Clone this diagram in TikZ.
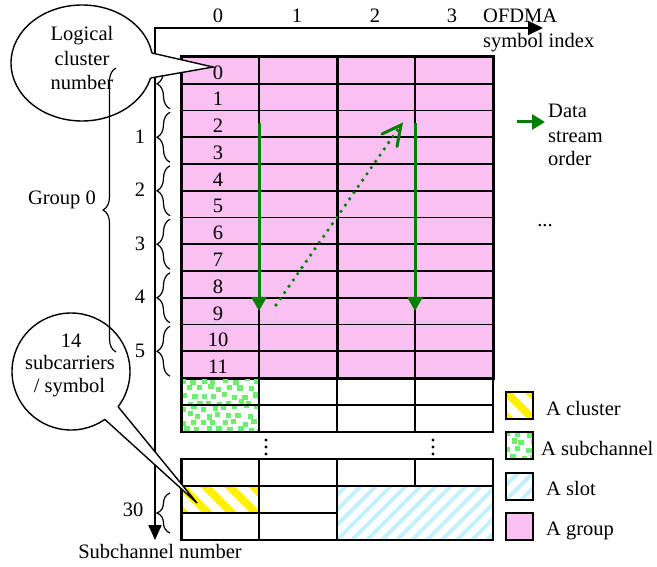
\documentclass[tikz,border=0pt]{standalone}
\usepackage{fontspec}
\setmainfont{Liberation Serif}
\usetikzlibrary{arrows.meta,decorations.pathreplacing}
\definecolor{pinkg}{RGB}{250,192,242}
\definecolor{dgreen}{RGB}{0,128,0}
\definecolor{dotg}{RGB}{110,238,110}
\definecolor{slotc}{RGB}{195,240,250}
\definecolor{clusty}{RGB}{255,240,0}
\tikzset{
  txt/.style={inner sep=0pt, anchor=base, font=\fontsize{20.5}{24}\selectfont},
  ltxt/.style={txt, anchor=base west},
  thinl/.style={line width=1.6pt},
  thickl/.style={line width=3pt},
  brc/.style={decorate, decoration={brace, amplitude=13pt}, line width=1.2pt},
  calloutline/.style={line width=1.4pt, line join=miter},
  garrow/.style={dgreen, line width=3pt, -{Triangle[length=14pt,width=15pt]}},
}
\newcommand{\greendots}[2]{%
  \begin{scope}
  \clip (#1,#2) rectangle ++(78,27);
  \foreach \i in {0,...,7} \foreach \j in {0,...,3} {
    \pgfmathsetmacro\gdx{#1+\i*10.3+mod(\j,2)*5+rand*2.5}
    \pgfmathsetmacro\gdy{#2+\j*7.5+rand*2}
    \fill[dotg] (\gdx,\gdy) rectangle ++(5.2,5.2);
  }
  \end{scope}}
\newcommand{\yhatch}[4]{%
  \begin{scope}
  \clip (#1,#2) rectangle ++(#3,#4);
  \foreach \k in {-3,...,8} \draw[clusty, line width=8pt] ({#1+\k*24-10},{#2-10}) -- ++(70,70);
  \end{scope}}
\newcommand{\chatch}[4]{%
  \begin{scope}
  \clip (#1,#2) rectangle ++(#3,#4);
  \foreach \k in {-5,...,12} \draw[slotc, line width=4pt] ({#1+\k*15-10},{#2+#4+10}) -- ++(80,-80);
  \end{scope}}
\begin{document}
\begin{tikzpicture}[x=1pt,y=-1pt]
\pgfmathsetseed{7}
\useasboundingbox (0,0) rectangle (657,567);
% axes
\draw[line width=2pt, {Triangle[length=15pt,width=13pt]}-{Triangle[length=15pt,width=14pt]}]
  (155,540) -- (155,28) -- (543,28);
\foreach \c/\x in {0/218,1/297,2/375,3/452} \node[txt] (col\c) at (\x,23) {\c};
\node[ltxt] (ofdma) at (483,23) {OFDMA};
\node[ltxt] (symidx) at (483,48) {symbol index};
% small braces and labels
\foreach \g in {0,...,5} {
  \pgfmathsetmacro\bc{57+(2*\g+1)*26.75}
  \draw[brc] (170,\bc+25) -- (170,\bc-25);
}
\foreach \g in {1,...,5} {
  \pgfmathsetmacro\bc{57+(2*\g+1)*26.75}
  \node[txt] (bl\g) at (140,\bc+6) {\g};
}
\draw[brc] (170,533) -- (170,493);
\node[txt] (b30) at (133,516) {30};
% pink group region
\fill[pinkg] (181,57) rectangle (493,378);
\foreach \r in {1,...,11} \draw[thinl] (181,{57+\r*26.75}) -- (493,{57+\r*26.75});
\draw[thinl] (259,57) -- (259,378);
\draw[thinl] (415,57) -- (415,378);
\draw[thickl] (337,57) -- (337,378);
\draw[thickl] (181,57) rectangle (493,378);
\foreach \r in {0,...,11} \node[txt] (row\r) at (218,{57+(\r+1)*26.75-4.5}) {\r};
% subchannel rows
\greendots{181}{378}
\greendots{181}{405}
\draw[thinl] (181,378) rectangle (493,432);
\draw[thinl] (181,405) -- (493,405);
\foreach \x in {259,337,415} \draw[thinl] (\x,378) -- (\x,432);
\draw[thickl] (181,378) -- (181,432);
% vertical dots
\foreach \x in {266,433} \foreach \y in {440,447,454} \fill (\x,\y) circle (1.6);
% bottom block
\yhatch{181}{486}{78}{27}
\chatch{337}{486}{156}{54}
\draw[thinl] (181,459) rectangle (493,540);
\draw[thinl] (181,486) -- (493,486);
\draw[thinl] (181,513) -- (337,513);
\draw[thinl] (259,459) -- (259,540);
\draw[thinl] (337,459) -- (337,540);
\draw[thinl] (415,459) -- (415,486);
\draw[thickl] (181,459) -- (181,540);
% data stream arrows
\coordinate (a1s) at (259,123); \coordinate (a1e) at (259,311);
\coordinate (a2s) at (415,123); \coordinate (a2e) at (415,311);
\coordinate (ds) at (276,305); \coordinate (de) at (399.5,127);
\coordinate (dtip) at (401,125);
\coordinate (dl) at (382,134); \coordinate (dr) at (397,146.5);
\draw[garrow] (a1s) -- (a1e);
\draw[garrow] (a2s) -- (a2e);
\draw[dgreen, line width=3.6pt, line cap=round, dash pattern=on 0pt off 7.6pt] (ds) -- (de);
\draw[dgreen, line width=3pt, line cap=round, line join=miter] (dl) -- (dtip) -- (dr);
% legend arrow
\coordinate (ls) at (517,122); \coordinate (le) at (545,122);
\draw[dgreen, line width=3pt, -{Triangle[length=13pt,width=15pt]}] (ls) -- (le);
\node[ltxt] (data) at (548,118) {Data};
\node[ltxt] (stream) at (548,143) {stream};
\node[ltxt] (order) at (548,166) {order};
\node[txt] (more) at (545,227) {...};
% legend boxes
\yhatch{506}{392}{27}{27}
\draw[thinl] (506,392) rectangle (533,419);
\begin{scope}
\clip (506,432) rectangle (533,459);
\foreach \i in {0,...,2} \foreach \j in {0,...,3} {
  \pgfmathsetmacro\gdx{506+\i*9.5+mod(\j,2)*4.7+rand*2}
  \pgfmathsetmacro\gdy{432+\j*7.5+rand*1.5}
  \fill[dotg] (\gdx,\gdy) rectangle ++(5.2,5.2);
}
\end{scope}
\draw[thinl] (506,432) rectangle (533,459);
\chatch{506}{473}{27}{27}
\draw[thinl] (506,473) rectangle (533,500);
\fill[pinkg] (506,513) rectangle (533,540);
\draw[thinl] (506,513) rectangle (533,540);
\node[ltxt] (lcl) at (546,415) {A cluster};
\node[ltxt] (lsc) at (541,455) {A subchannel};
\node[ltxt] (lsl) at (546,495) {A slot};
\node[ltxt] (lgr) at (546,535) {A group};
% callout 1
\draw[calloutline, fill=white] (82,63) ellipse [x radius=71, y radius=58];
\coordinate (c1a) at (151.9,53); \coordinate (c1t) at (213,67); \coordinate (c1b) at (150.6,78);
\fill[white] (c1a) -- (c1t) -- (c1b) -- (135,65) -- cycle;
\draw[calloutline] (c1a) -- (c1t) -- (c1b);
\node[txt] (lg1) at (82,40.5) {Logical};
\node[txt] (lg2) at (82,66) {cluster};
\node[txt] (lg3) at (82,90) {number};
% callout 2
\draw[calloutline, fill=white] (71,371.5) ellipse [x radius=59, y radius=58.5];
\coordinate (c2a) at (118.1,406.7); \coordinate (c2t) at (197,503); \coordinate (c2b) at (104.8,419.4);
\fill[white] (c2a) -- (c2t) -- (c2b) -- (100,400) -- cycle;
\draw[calloutline] (c2a) -- (c2t) -- (c2b);
\node[txt] (sc1) at (71,348) {14};
\node[txt] (sc2) at (70,370) {subcarriers};
\node[txt] (sc3) at (69.5,392) {/ symbol};
% group brace
\draw[brc] (116,352) -- (116,68);
\node[txt] (grp) at (62,205) {Group 0};
\node[txt] (subn) at (160,558) {Subchannel number};
\end{tikzpicture}
\end{document}
